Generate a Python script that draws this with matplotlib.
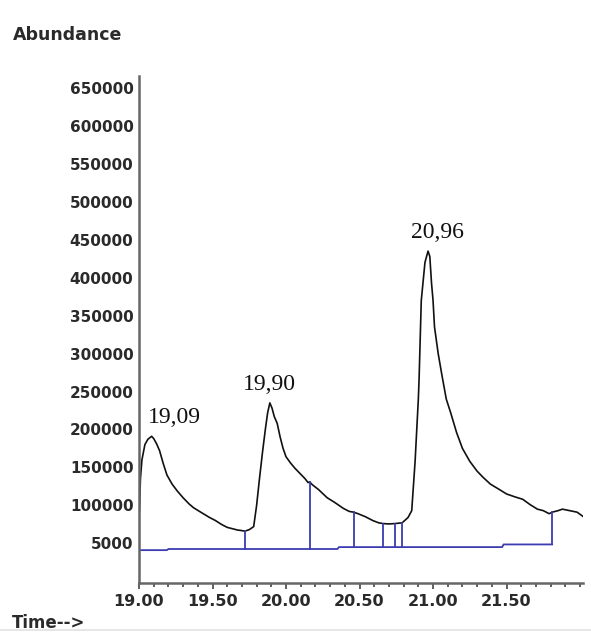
import numpy as np
import matplotlib.pyplot as plt
from matplotlib.ticker import MultipleLocator

# total ion chromatogram, time in minutes
time = [19.000, 19.003, 19.010, 19.020, 19.040, 19.060, 19.086, 19.100, 19.120,
        19.140, 19.165, 19.190, 19.225, 19.260, 19.300, 19.340, 19.370, 19.420,
        19.480, 19.520, 19.560, 19.600, 19.640, 19.670, 19.690, 19.720, 19.750,
        19.780, 19.800, 19.820, 19.840, 19.860, 19.875, 19.890, 19.905, 19.920,
        19.940, 19.960, 19.980, 20.000, 20.030, 20.060, 20.100, 20.130, 20.150,
        20.160, 20.180, 20.220, 20.280, 20.330, 20.390, 20.430, 20.460, 20.490,
        20.540, 20.590, 20.630, 20.660, 20.700, 20.740, 20.790, 20.830, 20.855,
        20.878, 20.900, 20.905, 20.920, 20.945, 20.966, 20.978, 20.990, 21.000,
        21.010, 21.035, 21.060, 21.090, 21.120, 21.160, 21.200, 21.250, 21.300,
        21.340, 21.390, 21.450, 21.500, 21.560, 21.610, 21.660, 21.710, 21.750,
        21.790, 21.810, 21.850, 21.880, 21.930, 21.980, 22.030]
abundance = [90000, 93000, 136000, 160000, 180000, 187000, 191000, 188000, 181000,
             172000, 155000, 140000, 128000, 119000, 110000, 102000, 97000, 91000,
             84000, 80000, 75000, 71000, 69000, 67500, 67000, 66000, 68000,
             72000, 100000, 136000, 170000, 201000, 222000, 235000, 228000, 217000,
             208000, 190000, 175000, 164000, 156000, 149000, 141000, 135000, 130000,
             131000, 127000, 121000, 110000, 104000, 96000, 92000, 91000, 89000,
             85000, 80000, 77000, 76000, 75500, 76000, 77000, 84000, 93000,
             158000, 240000, 266000, 370000, 420000, 435000, 428000, 392000, 370000,
             335000, 300000, 272000, 240000, 222000, 196000, 175000, 158000, 145000,
             137000, 128000, 121000, 115000, 111000, 108000, 101000, 95000, 93000,
             89000, 91000, 93000, 95000, 93000, 91000, 84000]

# integration baseline and peak split points
base_time = [19.00, 19.19, 19.20, 20.35, 20.36, 21.47, 21.48, 21.81]
base_level = [41000, 41000, 42500, 42500, 45000, 45000, 48500, 48500]
split_times = [19.72, 20.16, 20.46, 20.66, 20.74, 20.79, 21.81]

peak_times = [19.086, 19.89, 20.966]
peak_labels = ["19,09", "19,90", "20,96"]
label_shift = [(-3, 6), (0, 6), (7, 6)]

y_ticks = [50000, 100000, 150000, 200000, 250000, 300000, 350000,
           400000, 450000, 500000, 550000, 600000, 650000]
y_tick_labels = ["5000", "100000", "150000", "200000", "250000", "300000", "350000",
                 "400000", "450000", "500000", "550000", "600000", "650000"]
x_ticks = [19.0, 19.5, 20.0, 20.5, 21.0, 21.5]
x_tick_labels = ["19.00", "19.50", "20.00", "20.50", "21.00", "21.50"]

W, H = 591, 635
fig = plt.figure(figsize=(W / 100, H / 100), dpi=100)
ax = fig.add_axes([139 / W, 1 - 583 / H, 444 / W, (583 - 76) / H])

ax.plot(time, abundance, color="#111111", lw=1.2)

blue = "#3c3cb0"
ax.plot(base_time, base_level, color=blue, lw=1.3)
for t in split_times:
    y0 = np.interp(t, base_time, base_level)
    y1 = np.interp(t, time, abundance)
    ax.plot([t, t], [y0, y1], color=blue, lw=1.3)

for t, lab, off in zip(peak_times, peak_labels, label_shift):
    ax.annotate(lab, (t, np.interp(t, time, abundance)), xytext=off,
                textcoords="offset points", ha="left" if t < 19.5 else "center",
                va="bottom", family="Liberation Serif", fontsize=17,
                color="#111111")

ax.set_xlim(19.0, 22.02)
ax.set_ylim(-2300, 665700)

for side in ("top", "right"):
    ax.spines[side].set_visible(False)
for side in ("left", "bottom"):
    ax.spines[side].set_color("#666666")
    ax.spines[side].set_linewidth(1.8)

ax.set_yticks(y_ticks)
ax.set_yticklabels(y_tick_labels, family="DejaVu Sans", weight="bold",
                   fontsize=11, color="#2a2a2a")
ax.tick_params(axis="y", length=0, pad=4)

ax.set_xticks(x_ticks)
ax.set_xticklabels(x_tick_labels, family="DejaVu Sans", weight="bold",
                   fontsize=11.5, color="#2a2a2a")
ax.xaxis.set_minor_locator(MultipleLocator(0.1))
ax.tick_params(axis="x", which="major", length=4, width=1.2, color="#444444", pad=4)
ax.tick_params(axis="x", which="minor", length=3, width=1.2, color="#444444")

fig.text(13 / W, 1 - 35 / H, "Abundance", family="DejaVu Sans", weight="bold",
         fontsize=12.5, color="#2a2a2a", va="center", ha="left")
fig.text(12 / W, 1 - 623 / H, "Time-->", family="DejaVu Sans", weight="bold",
         fontsize=12, color="#2a2a2a", va="center", ha="left")
fig.add_artist(plt.Line2D([0, 1], [1 - 630 / H, 1 - 630 / H],
                          transform=fig.transFigure, color="#e2e2e2", lw=1.2))

fig.savefig("out.png", dpi=100)
